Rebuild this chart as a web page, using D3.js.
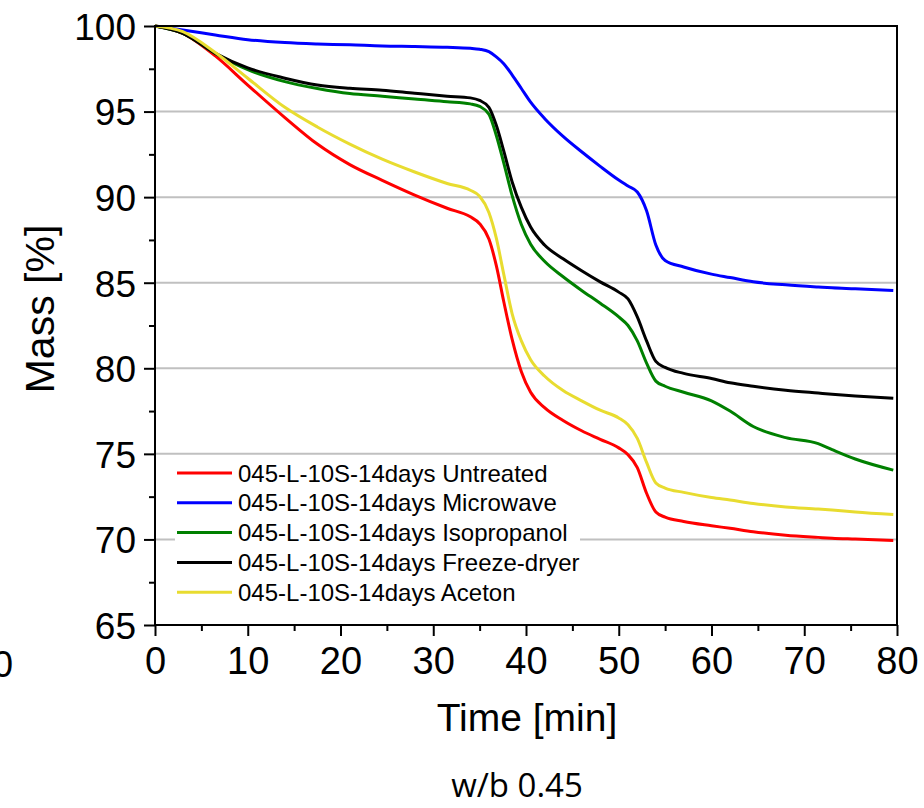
<!DOCTYPE html>
<meta charset="utf-8">
<script src="https://d3js.org/d3.v7.min.js"></script>
<style type="text/css">
body {
  margin: 0;
  background: #fff;
}
text {
  font-family: "Liberation Sans", Arial, sans-serif;
}
.axis path {
  display: none;
}
.axis line {
  stroke: #000;
  stroke-width: 2;
}
</style>
<body>
<script>

// time axis (min), shared by every series
var time = [0, 3, 6.5, 10, 14, 17.5, 21, 24.5, 28, 31.5, 34, 35, 36, 36.8, 37.6, 38.5, 39.5, 40.5, 42, 44,
  46, 48, 50, 51, 52, 53, 54, 55, 57, 60, 62, 64.5, 68, 71.5, 73, 75.5, 79.6];

var untreated = [100, 99.57, 98.25, 96.55, 94.65, 93.1, 91.9, 90.98, 90.12, 89.35, 88.85, 88.45, 87.55, 86.0, 83.9, 81.7, 79.8, 78.6, 77.7, 76.95,
  76.35, 75.85, 75.35, 74.95, 74.2, 72.7, 71.6, 71.3, 71.05, 70.8, 70.65, 70.45, 70.25, 70.12, 70.07, 70.02, 69.94];
var microwave = [100, 99.77, 99.48, 99.2, 99.03, 98.95, 98.9, 98.83, 98.8, 98.76, 98.7, 98.64, 98.5, 98.2, 97.8, 97.15, 96.35, 95.55, 94.6, 93.55,
  92.65, 91.8, 91.0, 90.65, 90.3, 89.2, 87.2, 86.3, 85.92, 85.5, 85.3, 85.05, 84.88, 84.75, 84.7, 84.65, 84.55];
var isopropanol = [100, 99.57, 98.4, 97.45, 96.75, 96.35, 96.05, 95.9, 95.73, 95.58, 95.45, 95.3, 94.85, 93.6, 92.0, 90.1, 88.4, 87.25, 86.25, 85.35,
  84.55, 83.8, 83.0, 82.5, 81.6, 80.3, 79.25, 78.95, 78.6, 78.1, 77.5, 76.6, 75.95, 75.6, 75.25, 74.7, 74.05];
var freezeDryer = [100, 99.57, 98.4, 97.55, 96.95, 96.55, 96.36, 96.25, 96.07, 95.9, 95.8, 95.65, 95.25, 94.2, 92.7, 90.9, 89.4, 88.25, 87.2, 86.4,
  85.7, 85.05, 84.45, 84.05, 83.0, 81.6, 80.4, 80.05, 79.7, 79.4, 79.15, 78.95, 78.72, 78.55, 78.48, 78.38, 78.25];
var aceton = [100, 99.67, 98.45, 96.95, 95.25, 94.1, 93.1, 92.22, 91.47, 90.8, 90.4, 90.05, 89.1, 87.6, 85.5, 83.2, 81.6, 80.5, 79.55, 78.7,
  78.1, 77.55, 77.1, 76.7, 75.9, 74.5, 73.3, 73.0, 72.75, 72.45, 72.3, 72.1, 71.9, 71.78, 71.72, 71.6, 71.45];

var seriesNames = ["045-L-10S-14days Untreated", "045-L-10S-14days Microwave", "045-L-10S-14days Isopropanol",
  "045-L-10S-14days Freeze-dryer", "045-L-10S-14days Aceton"];
var seriesValues = [untreated, microwave, isopropanol, freezeDryer, aceton];
var seriesColors = ["#ff0000", "#0000ff", "#008000", "#000000", "#e8dc30"];

var xTicks = [0, 10, 20, 30, 40, 50, 60, 70, 80];
var yTicks = [65, 70, 75, 80, 85, 90, 95, 100];

var width = 924, height = 808;
var margin = {top: 26, right: 27, bottom: 183, left: 155};

var svg = d3.select("body").append("svg")
    .attr("width", width)
    .attr("height", height);

var x = d3.scaleLinear().domain([0, 80]).range([margin.left, width - margin.right]);
var y = d3.scaleLinear().domain([65, 100]).range([height - margin.bottom, margin.top]);

// grid lines
svg.selectAll(".grid").data(yTicks.slice(1, -1)).enter().append("line")
    .attr("class", "grid")
    .attr("x1", x(0)).attr("x2", x(80))
    .attr("y1", function(d) { return y(d); })
    .attr("y2", function(d) { return y(d); })
    .style("stroke", "#c0c0c0")
    .style("stroke-width", 2);

// minor ticks
var xMinor = d3.range(5, 80, 10);
var yMinor = d3.range(67.5, 100, 5);
svg.append("g").attr("class", "axis")
    .attr("transform", "translate(0," + y(65) + ")")
    .call(d3.axisBottom(x).tickValues(xMinor).tickSize(6).tickFormat(""));
svg.append("g").attr("class", "axis")
    .attr("transform", "translate(" + x(0) + ",0)")
    .call(d3.axisLeft(y).tickValues(yMinor).tickSize(6).tickFormat(""));

// major axes
var xAxis = svg.append("g").attr("class", "axis")
    .attr("transform", "translate(0," + y(65) + ")")
    .call(d3.axisBottom(x).tickValues(xTicks).tickSize(11).tickPadding(10));
xAxis.selectAll("text").style("font-size", "38px").attr("dy", "0.71em").attr("y", 22).attr("fill", "#000");

var yAxis = svg.append("g").attr("class", "axis")
    .attr("transform", "translate(" + x(0) + ",0)")
    .call(d3.axisLeft(y).tickValues(yTicks).tickSize(11).tickPadding(8));
yAxis.selectAll("text").style("font-size", "37px").attr("dy", "0.36em").attr("fill", "#000");

// lines
var line = d3.line()
    .x(function(d) { return x(d[0]); })
    .y(function(d) { return y(d[1]); })
    .curve(d3.curveMonotoneX);

svg.selectAll(".series").data(seriesValues).enter().append("path")
    .attr("class", "series")
    .attr("d", function(vals) { return line(time.map(function(t, i) { return [t, vals[i]]; })); })
    .style("fill", "none")
    .style("stroke", function(d, i) { return seriesColors[i]; })
    .style("stroke-width", 3);

// frame
svg.append("rect")
    .attr("x", x(0)).attr("y", y(100))
    .attr("width", x(80) - x(0)).attr("height", y(65) - y(100))
    .style("fill", "none")
    .style("stroke", "#000")
    .style("stroke-width", 2);

// legend
svg.append("rect")
    .attr("x", 175).attr("y", 457)
    .attr("width", 405).attr("height", 148)
    .style("fill", "#fff");

var legend = svg.selectAll(".legend").data(seriesNames).enter().append("g")
    .attr("class", "legend")
    .attr("transform", function(d, i) { return "translate(177," + (473 + i * 29.8) + ")"; });
legend.append("line")
    .attr("x1", 0).attr("x2", 55)
    .style("stroke", function(d, i) { return seriesColors[i]; })
    .style("stroke-width", 3);
legend.append("text")
    .attr("x", 61).attr("dy", "0.36em")
    .style("font-size", "24px")
    .text(function(d) { return d; });

// axis titles
svg.append("text")
    .attr("x", 527).attr("y", 731)
    .style("text-anchor", "middle")
    .style("font-size", "39px")
    .text("Time [min]");

svg.append("text")
    .attr("transform", "translate(54,309) rotate(-90)")
    .style("text-anchor", "middle")
    .style("font-size", "41px")
    .text("Mass [%]");

svg.append("text")
    .attr("x", 517).attr("y", 797)
    .style("text-anchor", "middle")
    .style("font-family", "'Open Sans', sans-serif")
    .style("font-size", "33px")
    .text("w/b 0.45");

// edge of neighbouring panel
svg.append("text")
    .attr("x", 13).attr("y", 677)
    .style("text-anchor", "end")
    .style("font-size", "37px")
    .text("0");

</script>
</body>
</html>
